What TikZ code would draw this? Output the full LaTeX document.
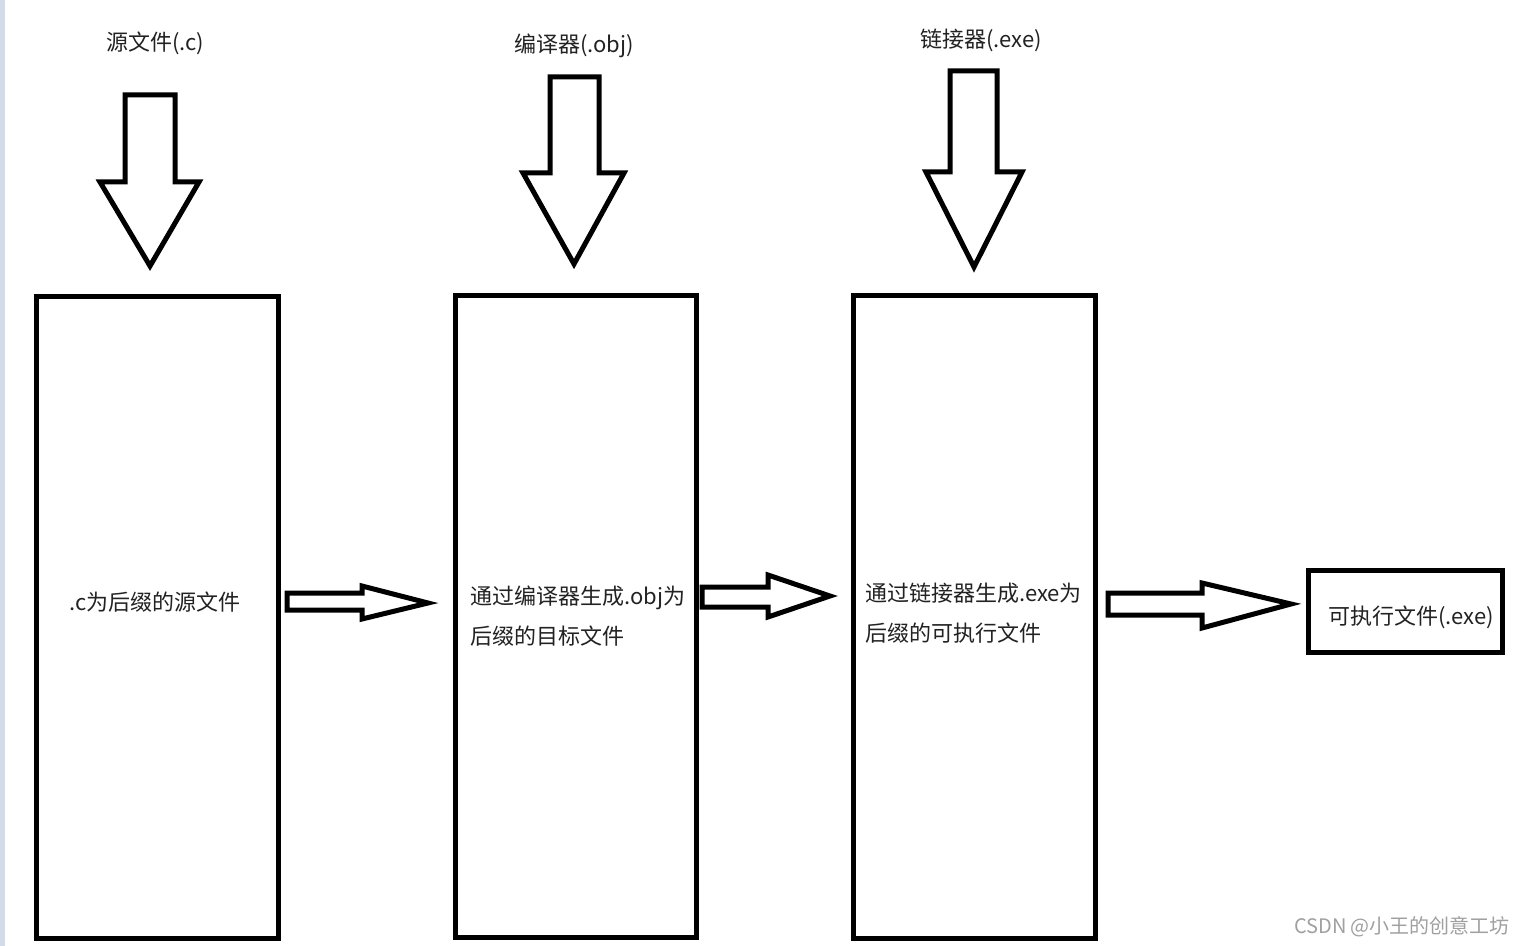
\documentclass[tikz,border=0pt]{standalone}
\usepackage{fontspec}
\setmainfont{Noto Sans CJK SC}
\definecolor{strip}{HTML}{D3DBEA}
\definecolor{txt}{HTML}{222222}
\definecolor{wm}{HTML}{A0A0A0}
\begin{document}
\begin{tikzpicture}[x=0.5pt,y=-0.5pt,
  box/.style={draw=black, line width=2.5pt, inner sep=0pt, outer sep=0pt, anchor=north west},
  blk/.style={draw=black, line width=2.5pt, line join=miter, miter limit=20, fill=white},
  lbl/.style={font=\fontsize{11}{20}\selectfont, text=txt, inner sep=0pt},
  para/.style={lbl, align=left, anchor=west}]
\useasboundingbox (0,0) rectangle (1524,946);
\fill[white] (0,0) rectangle (1524,946);
\fill[strip] (0,0) rectangle (5,946);
% boxes
\node[box, minimum width=121pt, minimum height=320.5pt] (b1) at (36,297) {};
\node[box, minimum width=120.5pt, minimum height=320.5pt] (b2) at (455,296) {};
\node[box, minimum width=121pt, minimum height=321pt] (b3) at (853,296) {};
\node[box, minimum width=97pt, minimum height=41pt] (b4) at (1308,570) {};
% titles
\node[lbl] (t1) at (155,43) {源文件(.c)};
\node[lbl] (t2) at (574,46) {编译器(.obj)};
\node[lbl] (t3) at (981,40) {链接器(.exe)};
% box texts
\node[lbl] (x1) at (155,602) {.c为后缀的源文件};
\node[para] (x2) at (470,616) {通过编译器生成.obj为\\后缀的目标文件};
\node[para] (x3) at (865,613) {通过链接器生成.exe为\\后缀的可执行文件};
\node[lbl] (x4) at (1411,617) {可执行文件(.exe)};
% down block arrows
\draw[blk] (125,95) -- (175,95) -- (175,182) -- (199,182) -- (150,266) -- (100,182) -- (125,182) -- cycle;
\draw[blk] (550,77) -- (599,77) -- (599,173) -- (624,173) -- (574,264) -- (523,173) -- (550,173) -- cycle;
\draw[blk] (950,71) -- (997,71) -- (997,172) -- (1022,172) -- (974,267) -- (926,172) -- (950,172) -- cycle;
% right block arrows
\draw[blk] (287,593) -- (362,593) -- (362,586) -- (428,603) -- (362,619) -- (362,610) -- (287,610) -- cycle;
\draw[blk] (702,587) -- (768,587) -- (768,575) -- (830,596) -- (768,617) -- (768,607) -- (702,607) -- cycle;
\draw[blk] (1108,593) -- (1202,593) -- (1202,583) -- (1291,604) -- (1202,628) -- (1202,615) -- (1108,615) -- cycle;
% watermark
\node[lbl, text=wm, font=\fontsize{10}{12}\selectfont] (w) at (1402,927) {CSDN @小王的创意工坊};
\end{tikzpicture}
\end{document}
